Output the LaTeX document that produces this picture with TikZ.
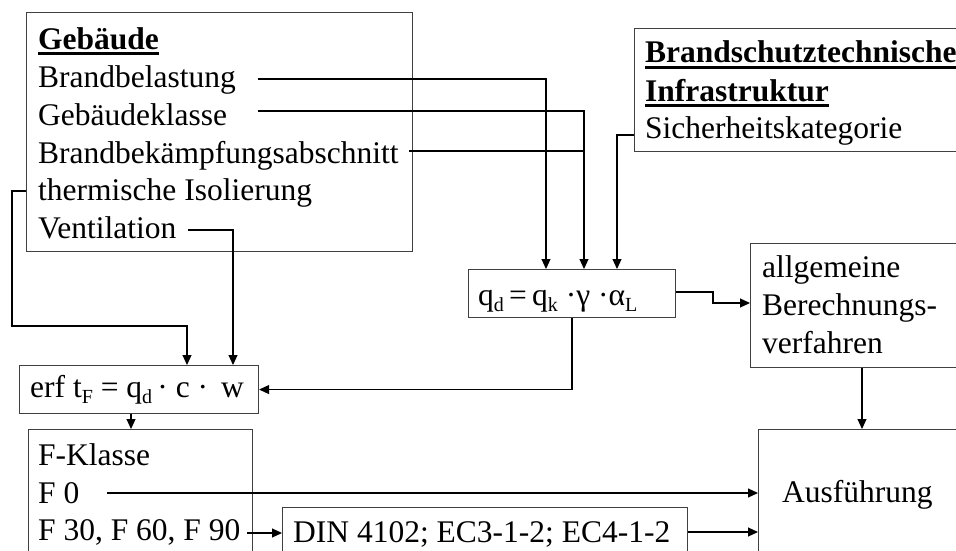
\documentclass[tikz,border=0pt]{standalone}
\usepackage{fontspec}
\setmainfont{Liberation Serif}
\usetikzlibrary{arrows.meta,calc}
\newcommand\sbx[1]{\raisebox{-0.2em}{\fontsize{20}{20}\selectfont #1}}
\begin{document}
\begin{tikzpicture}[x=1pt,y=-1pt,
  box/.style={draw=black!75,line width=1.1pt,anchor=north west,inner sep=0pt},
  txt/.style={anchor=base west,inner sep=0pt,font=\fontsize{31.5}{37.5}\selectfont},
  hd/.style={anchor=base west,inner sep=0pt,font=\fontsize{31.5}{37.5}\selectfont\bfseries},
  con/.style={line width=1.1pt,black},
  arr/.style={con,-{Triangle[length=10pt,width=9pt]}},
  ul/.style={line width=2.8pt}]
\useasboundingbox (0,0) rectangle (956,551);
\clip (0,0) rectangle (956,551);

% boxes
\node[box,minimum width=386pt,minimum height=239pt] (geb) at (26,12) {};
\node[box,minimum width=400pt,minimum height=123pt] (bst) at (634,28) {};
\node[box,minimum width=207pt,minimum height=48pt] (qd) at (468,269) {};
\node[box,minimum width=300pt,minimum height=124pt] (allg) at (750,243) {};
\node[box,minimum width=239pt,minimum height=48pt] (erf) at (19,365) {};
\node[box,minimum width=224pt,minimum height=200pt] (fk) at (28,429) {};
\node[box,minimum width=405pt,minimum height=100pt] (din) at (282,507) {};
\node[box,minimum width=300pt,minimum height=200pt] (aus) at (758,429) {};

% texts
\node[hd] (t1) at (38,50) {Gebäude};
\node[txt] (t2) at (38,88) {Brandbelastung};
\node[txt] (t3) at (38,125) {Gebäudeklasse};
\node[txt] (t4) at (38,163) {Brandbekämpfungsabschnitt};
\node[txt] (t5) at (38,200) {thermische Isolierung};
\node[txt] (t6) at (38,238) {Ventilation};
\draw[ul] ($(t1.base west)+(0,3.5)$) -- ($(t1.base east)+(0,3.5)$);

\node[hd] (b1) at (645,63) {Brandschutztechnische};
\node[hd] (b2) at (645,101) {Infrastruktur};
\node[txt] (b3) at (645,138) {Sicherheitskategorie};
\draw[ul] ($(b1.base west)+(0,4.5)$) -- ($(b1.base east)+(0,4.5)$);
\draw[ul] ($(b2.base west)+(0,4.5)$) -- ($(b2.base east)+(0,4.5)$);

\node[txt] (qdt) at (478,305) {q\sbx{d}\,=\,q\sbx{k} ·γ ·α\sbx{L}};
\node[txt] (a1) at (762,277) {allgemeine};
\node[txt] (a2) at (762,315) {Berechnungs-};
\node[txt] (a3) at (762,353) {verfahren};
\node[txt] (erft) at (30,397) {erf t\sbx{F} = q\sbx{d}\,· c ·\, w};
\node[txt] (f1) at (38,465) {F-Klasse};
\node[txt] (f2) at (38,503) {F 0};
\node[txt] (f3) at (38,540) {F 30, F 60, F 90};
\node[txt] (dint) at (293,542) {DIN 4102; EC3-1-2; EC4-1-2};
\node[txt] (aust) at (782,502) {Ausführung};

% connector end points
\coordinate (s2) at (258,79);
\coordinate (s3) at (258,111);
\coordinate (s4) at (409,151);
\coordinate (s5) at (26,191);
\coordinate (s6) at (188,230);
\coordinate (s13) at (634,135);
\coordinate (q1) at ($(qd.north west)+(78,0)$);
\coordinate (q2) at ($(qd.north west)+(116,0)$);
\coordinate (q3) at ($(qd.north west)+(149,0)$);
\coordinate (e1) at ($(erf.north west)+(168,0)$);
\coordinate (e2) at ($(erf.north west)+(214,0)$);

\draw[arr] (s2) -| (q1);
\draw[arr] (s3) -| (q2);
\draw[con] (s4) -- (s4 -| q2);
\draw[arr] (s13) -| (q3);
\draw[arr] (s5) -- (12,191) |- (187,326) -- (e1);
\draw[arr] (s6) -| (e2);
\draw[arr] ($(qd.south west)+(104,0)$) |- (erf.east);
\draw[arr] (qd.east |- 0,292) -- (713,292) |- (allg.west |- 0,303);
\draw[arr] (erf.south -| 131,0) -- (fk.north -| 131,0);
\draw[arr] (allg.south -| 862,0) -- (aus.north -| 862,0);
\draw[arr] (107,493) -- (aus.west |- 0,493);
\draw[arr] (247,533) -- (din.west |- 0,533);
\draw[arr] (din.east |- 0,532) -- (aus.west |- 0,532);
\end{tikzpicture}
\end{document}
